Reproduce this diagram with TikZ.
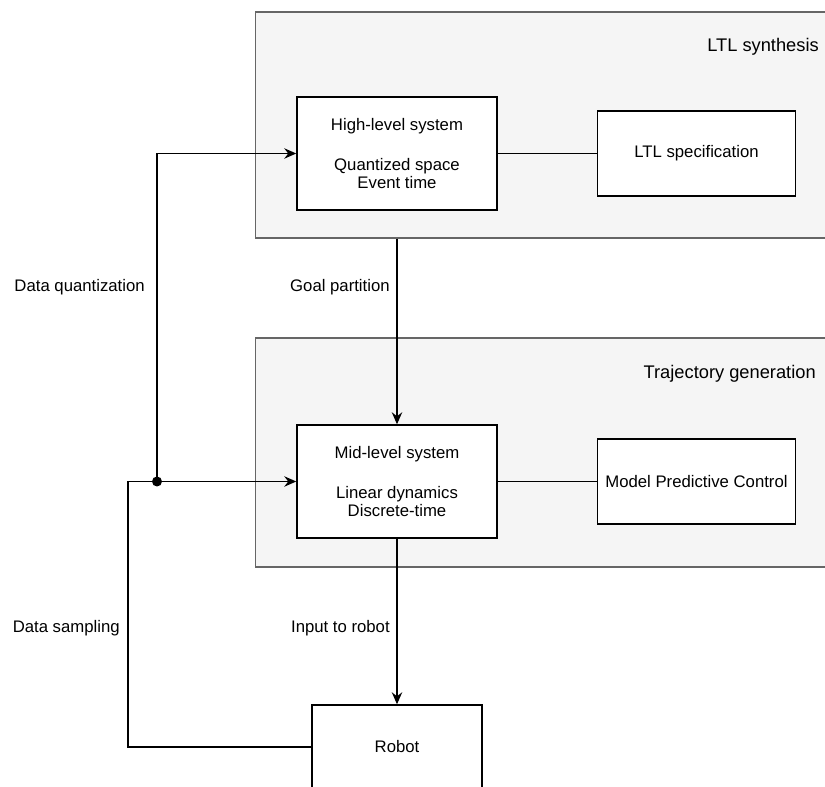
\documentclass[tikz,border=0pt]{standalone}
\usepackage{fontspec}
\setmainfont{Liberation Sans}
\usepackage{xcolor}
\usetikzlibrary{arrows.meta,positioning}
\definecolor{panelgray}{HTML}{F5F5F5}
\definecolor{paneledge}{HTML}{666666}
\tikzset{
    every picture/.style={line join=miter},
    panel/.style={draw=paneledge,fill=panelgray,line width=0.8pt,inner sep=0pt},
    sysbox/.style={draw=black,fill=white,line width=1pt,
      minimum width=5cm,minimum height=2.825cm,inner sep=2pt,align=center},
    specbox/.style={draw=black,fill=white,line width=1pt,
      minimum width=4.95cm,minimum height=2.125cm,inner sep=2pt,align=center},
    flowarrow/.style={->,draw=black,line width=1pt},
    flowline/.style={-,draw=black,line width=1pt},
    sidelabel/.style={inner sep=0pt,anchor=east},
    paneltitle/.style={sidelabel,font=\fontsize{13}{14}\selectfont}
}

\begin{document}
\begin{tikzpicture}[x=0.025cm,y=-0.025cm,
    >={Stealth[length=3mm,width=2.6mm,inset=1mm]},
    font=\fontsize{11.9}{12.8}\selectfont]
  \clip (0,0) rectangle (825,787);
  % layers
  \node[panel,minimum width=14.6cm,minimum height=5.65cm] (ltlpanel) at (548,125) {};
  \node[panel,minimum width=14.6cm,minimum height=5.725cm] (trajpanel) at (548,452.5) {};
  \node[paneltitle] (ltltitle) at (819,47) {LTL synthesis};
  \node[paneltitle] (trajtitle) at (816,374) {Trajectory generation};
  % blocks
  \node[sysbox] (high) at (397,153.5)
    {High-level system\\[15.6pt]Quantized space\\Event time};
  \node[specbox,right=2.475cm of high] (ltlspec) {LTL specification};
  \node[sysbox] (mid) at (397,481.5)
    {Mid-level system\\[15.6pt]Linear dynamics\\Discrete-time};
  \node[specbox,right=2.475cm of mid] (mpc) {Model Predictive Control};
  \node[sysbox,minimum width=4.25cm,minimum height=2.1cm] (robot) at (397,747) {Robot};
  % connectors
  \coordinate (split) at (157,481.5);
  \coordinate (loop) at (128,481.5);
  \draw[flowline] (high) -- (ltlspec);
  \draw[flowline] (mid) -- (mpc);
  \draw[flowarrow] (ltlpanel.south -| mid.north) -- (mid.north);
  \draw[flowarrow] (mid.south) -- (robot.north);
  \draw[flowarrow] (robot.west) -| (loop) -- (mid.west);
  \draw[flowarrow] (split) |- (high.west);
  \fill (split) circle[radius=1.25mm];
  % labels
  \node[sidelabel] (quantlbl) at (145,287) {Data quantization};
  \node[sidelabel] (goallbl) at (390,287) {Goal partition};
  \node[sidelabel] (samplbl) at (120,628) {Data sampling};
  \node[sidelabel] (inputlbl) at (390,628) {Input to robot};
\end{tikzpicture}
\end{document}
